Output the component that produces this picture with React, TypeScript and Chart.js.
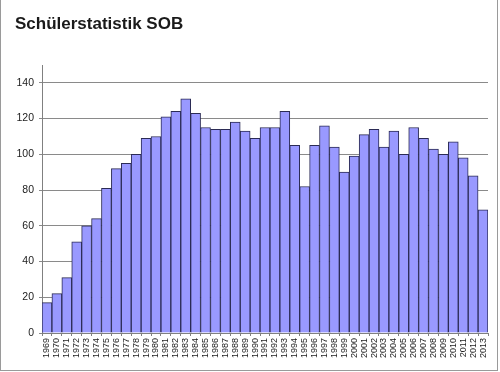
import React, { useEffect, useRef } from "react";
import { Chart, registerables } from "chart.js";

Chart.register(...registerables);

const years: string[] = [
  "1969","1970","1971","1972","1973","1974","1975","1976","1977","1978",
  "1979","1980","1981","1982","1983","1984","1985","1986","1987","1988",
  "1989","1990","1991","1992","1993","1994","1995","1996","1997","1998",
  "1999","2000","2001","2002","2003","2004","2005","2006","2007","2008",
  "2009","2010","2011","2012","2013",
];

const students: number[] = [
  17, 22, 31, 51, 60, 64, 81, 92, 95, 100,
  109, 110, 121, 124, 131, 123, 115, 114, 114, 118,
  113, 109, 115, 115, 124, 105, 82, 105, 116, 104,
  90, 99, 111, 114, 104, 113, 100, 115, 109, 103,
  100, 107, 98, 88, 69,
];

const titleText = "Schülerstatistik SOB";
const yMax = 150;
const yStep = 20;
const yLabelMax = 140;

export default function App() {
  const ref = useRef<HTMLCanvasElement | null>(null);

  useEffect(() => {
    document.body.style.margin = "0";
    const canvas = ref.current;
    if (!canvas) return;
    const chart = new Chart(canvas, {
      type: "bar",
      data: {
        labels: years,
        datasets: [
          {
            data: students,
            backgroundColor: "#9999ff",
            borderColor: "#2b2b55",
            borderWidth: 1,
            barPercentage: 1,
            categoryPercentage: 1,
          },
        ],
      },
      options: {
        animation: false,
        responsive: false,
        maintainAspectRatio: false,
        layout: { padding: { left: 14, right: 9, top: 0, bottom: 0 } },
        plugins: {
          legend: { display: false },
          tooltip: { enabled: false },
          title: {
            display: true,
            text: titleText,
            align: "start",
            color: "#1a1a1a",
            font: { family: "'Liberation Sans', Arial, sans-serif", size: 17, weight: "bold" },
            padding: { top: 14, bottom: 30.6 },
          },
        },
        scales: {
          x: {
            offset: true,
            grid: {
              display: true,
              drawOnChartArea: false,
              tickLength: 3,
              color: "#808080",
              offset: true,
            },
            border: { display: true, color: "#808080", width: 1 },
            ticks: {
              autoSkip: false,
              maxRotation: 90,
              minRotation: 90,
              padding: 2,
              color: "#222",
              font: { family: "'Liberation Sans', Arial, sans-serif", size: 9 },
            },
            afterFit: (scale: any) => {
              scale.height = 37;
            },
          },
          y: {
            min: 0,
            max: yMax,
            ticks: {
              stepSize: yStep,
              padding: 5,
              color: "#222",
              font: { family: "'Liberation Sans', Arial, sans-serif", size: 10.5 },
            },
            grid: {
              color: "#8a8a8a",
              lineWidth: 1,
              tickLength: 3,
            },
            border: { display: true, color: "#808080", width: 1 },
            afterBuildTicks: (scale: any) => {
              scale.ticks = scale.ticks.filter((t: any) => t.value <= yLabelMax);
            },
            afterFit: (scale: any) => {
              scale.width = 27;
            },
          },
        },
      },
    });
    return () => chart.destroy();
  }, []);

  return (
    <div
      style={{
        position: "absolute",
        left: 0,
        top: -1,
        width: 498,
        height: 372,
        boxSizing: "border-box",
        border: "1px solid #9a9a9a",
        background: "#fff",
      }}
    >
      <canvas ref={ref} width={496} height={370} style={{ display: "block", width: 496, height: 370 }} />
    </div>
  );
}
